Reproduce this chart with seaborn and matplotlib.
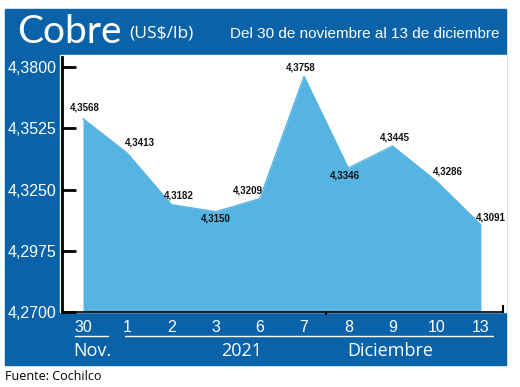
import matplotlib
matplotlib.use("Agg")
import matplotlib.pyplot as plt
import seaborn as sns
import pandas as pd
from matplotlib.patches import Rectangle

dias = ['30', '1', '2', '3', '6', '7', '8', '9', '10', '13']
precios = [4.3568, 4.3413, 4.3182, 4.3150, 4.3209, 4.3758, 4.3346, 4.3445, 4.3286, 4.3091]
yticks = [4.2700, 4.2975, 4.3250, 4.3525, 4.3800]

# where each value label sits relative to its point (pixels)
offsets = [(2, 11), (13, 11), (7, 9), (0, -7), (-12, 8), (-3, 9), (-3, -7), (2, 9), (11, 10), (10, 7)]

df = pd.DataFrame({'pos': range(len(dias)), 'precio': precios})

azul = '#0a63a8'
celeste = '#56b4e2'
sans = ['Liberation Sans', 'DejaVu Sans']

sns.set_theme(style='white')
plt.rcParams['font.family'] = sans

W, H = 520, 387
fig = plt.figure(figsize=(W / 100, H / 100), dpi=100)
fig.patch.set_facecolor('white')

def px(x0, y0, x1, y1, color):
    fig.patches.append(Rectangle((x0 / W, 1 - y1 / H), (x1 - x0) / W, (y1 - y0) / H,
                                 transform=fig.transFigure, color=color, zorder=-10))

px(5, 9, 506, 365, azul)
px(60, 55, 506, 312, 'white')

ax = fig.add_axes([62 / W, 1 - 312 / H, (503 - 62) / W, (312 - 57) / H])
ax.set_facecolor('none')

ax.fill_between(df['pos'], df['precio'], 4.27, color=celeste, lw=0, zorder=1)
sns.lineplot(data=df, x='pos', y='precio', ax=ax, color=celeste, lw=1, zorder=2)

for i, v in enumerate(precios):
    ax.annotate(f'{v:.4f}'.replace('.', ','), (i, v), xytext=offsets[i],
                textcoords='offset pixels', ha='center', va='center',
                fontsize=7, fontweight='bold', color='#111111', zorder=3)

ax.set_xlim(-0.475, 9.5)
ax.set_ylim(4.27, 4.3845)
ax.set_xlabel('')
ax.set_ylabel('')

ax.set_yticks(yticks)
ax.set_yticklabels([f'{t:.4f}'.replace('.', ',') for t in yticks], color='white', fontsize=11.5)
ax.tick_params(axis='y', direction='in', length=10, width=2, color='black', pad=4, left=True)

ax.set_xticks(range(len(dias)))
ax.set_xticklabels(dias, color='white', fontsize=11.5)
ax.tick_params(axis='x', length=0, pad=6)
ax.set_xticks([5.5], minor=True)
ax.tick_params(axis='x', which='minor', direction='out', length=2, width=1.5, color='black', bottom=True)

ax.spines['top'].set_visible(False)
ax.spines['left'].set_color('black')
ax.spines['left'].set_linewidth(2)
ax.spines['bottom'].set_color('black')
ax.spines['bottom'].set_linewidth(1.2)
ax.spines['right'].set_color('black')
ax.spines['right'].set_linewidth(1.5)
ax.spines['right'].set_bounds(4.27, 4.2727)

# underlines and month labels in the bottom band
fig.add_artist(plt.Line2D([75 / W, 108 / W], [1 - 336 / H] * 2, color='white', lw=1))
fig.add_artist(plt.Line2D([125 / W, 493 / W], [1 - 336 / H] * 2, color='white', lw=1))
for x, t in [(92, 'Nov.'), (242, '2021'), (390, 'Diciembre')]:
    fig.text(x / W, 1 - 351 / H, t, color='white', fontsize=13, ha='center', va='center', family='Open Sans')

# title band
fig.text(17 / W, 1 - 32 / H, 'Cobre', color='white', fontsize=28, ha='left', va='center', family='Lato')
fig.text(129 / W, 1 - 33 / H, '(US$/lb)', color='white', fontsize=12.5, ha='left', va='center', family='Open Sans')
fig.text(500 / W, 1 - 34 / H, 'Del 30 de noviembre al 13 de diciembre', color='white', fontsize=11,
         ha='right', va='center')

fig.text(5 / W, 1 - 377 / H, 'Fuente: Cochilco', color='black', fontsize=9, ha='left', va='center', family='Open Sans')

fig.savefig('out.png', dpi=100)
